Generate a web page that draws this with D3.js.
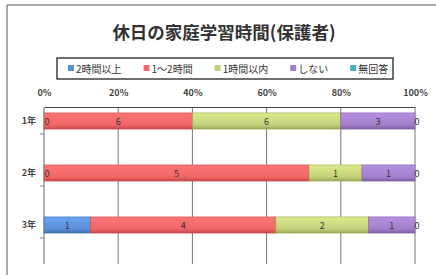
<!DOCTYPE html>
<html>
<head>
<meta charset="utf-8">
<title>休日の家庭学習時間(保護者)</title>
<script src="https://d3js.org/d3.v7.min.js"></script>
<style>
  body { margin: 0; background: #fff; }
  text { font-family: "Noto Sans CJK JP", "Noto Sans", sans-serif; }
</style>
</head>
<body>
<script>
const grades = ["1年", "2年", "3年"]
const seriesNames = ["2時間以上", "1〜2時間", "1時間以内", "しない", "無回答"]
const over2h = [0, 0, 1]
const h1to2 = [6, 5, 4]
const under1h = [6, 1, 2]
const none = [3, 1, 1]
const noAnswer = [0, 0, 0]
const tickLabels = ["0%", "20%", "40%", "60%", "80%", "100%"]

const colors = ["#5b8fd6", "#ef6767", "#c3d07a", "#a27fc9", "#4bacc6"]
const dark = ["#3f6fb0", "#c84848", "#9aa955", "#7d5ea6", "#3490a8"]

const w = 436, h = 275
const svg = d3.select("body").append("svg").attr("width", w).attr("height", h)

// frame of the scanned chart
svg.append("path").attr("d", "M7,277 V5 H436")
  .attr("fill", "none").attr("stroke", "#555").attr("stroke-width", 1)

svg.append("text").attr("x", 224).attr("y", 39).attr("text-anchor", "middle")
  .attr("font-size", 17.5).attr("font-weight", "bold").attr("fill", "#333")
  .text("休日の家庭学習時間(保護者)")

const rows = grades.map((g, i) => {
  const vals = [over2h[i], h1to2[i], under1h[i], none[i], noAnswer[i]]
  const total = d3.sum(vals)
  let acc = 0
  return vals.map((v, k) => {
    const s = acc / total
    acc += v
    return {grade: g, k: k, v: v, x0: s, x1: acc / total}
  })
})

const x = d3.scaleLinear().domain([0, 1]).range([44, 415])
const yBar = d3.scaleBand().domain(grades).range([95, 251]).paddingInner(0.69).paddingOuter(0.345)
const yAxis = d3.scaleBand().domain(grades).range([108, 264])

// gradients
const defs = svg.append("defs")
colors.forEach((c, k) => {
  const gr = defs.append("linearGradient").attr("id", "g" + k)
    .attr("x1", 0).attr("y1", 0).attr("x2", 0).attr("y2", 1)
  gr.append("stop").attr("offset", "0%").attr("stop-color", d3.color(c).brighter(0.35))
  gr.append("stop").attr("offset", "75%").attr("stop-color", c)
  gr.append("stop").attr("offset", "100%").attr("stop-color", dark[k])
})

// gridlines
svg.append("g").selectAll("line").data(d3.range(0.2, 1.01, 0.2)).enter().append("line")
  .attr("x1", d => x(d)).attr("x2", d => x(d))
  .attr("y1", 108).attr("y2", 264)
  .attr("stroke", "#777").attr("stroke-width", 1)

// top axis
svg.append("g").attr("transform", "translate(0,107)")
  .call(d3.axisTop(x).tickValues(d3.range(0, 1.01, 0.2)).tickSize(0)
    .tickFormat((d, i) => tickLabels[i]))
  .call(g => g.select(".domain").attr("stroke", "#444").attr("stroke-width", 1.2))
  .call(g => g.selectAll("text").attr("dy", -8).attr("font-size", 9)
    .attr("font-weight", "bold").attr("fill", "#444")
    .attr("font-family", "\"Noto Sans CJK JP\", sans-serif"))

// left axis
svg.append("g").attr("transform", "translate(44,0)")
  .call(d3.axisLeft(yAxis).tickSize(4).tickFormat(""))
  .call(g => g.select(".domain").attr("stroke", "#666").attr("d", "M-0,108V264"))
  .call(g => g.selectAll(".tick line").attr("stroke", "#888"))

svg.append("g").selectAll("text").data(grades).enter().append("text")
  .attr("x", 36).attr("y", d => yBar(d) + yBar.bandwidth() / 2 + 3)
  .attr("text-anchor", "end").attr("font-size", 9).attr("font-weight", "bold")
  .attr("fill", "#444").text(d => d)

// bars
const seg = svg.append("g").selectAll("g").data(rows).enter().append("g")
seg.selectAll("rect").data(d => d.filter(s => s.v > 0)).enter().append("rect")
  .attr("x", d => x(d.x0)).attr("width", d => x(d.x1) - x(d.x0))
  .attr("y", d => yBar(d.grade)).attr("height", yBar.bandwidth())
  .attr("fill", d => "url(#g" + d.k + ")")
  .attr("stroke", d => dark[d.k]).attr("stroke-width", 0.6)

seg.selectAll("text").data(d => d).enter().append("text")
  .attr("x", d => (x(d.x0) + x(d.x1)) / 2 + (d.v === 0 ? (d.x0 === 0 ? 3 : 2) : 0))
  .attr("y", d => yBar(d.grade) + yBar.bandwidth() / 2 + 3.5)
  .attr("text-anchor", "middle").attr("font-size", 9).attr("fill", "#333")
  .text(d => d.v)

// legend
const lg = svg.append("g")
lg.append("rect").attr("x", 57).attr("y", 58).attr("width", 336).attr("height", 21)
  .attr("fill", "#fff").attr("stroke", "#222").attr("stroke-width", 1.3)
const items = lg.selectAll("g").data(seriesNames).enter().append("g")
items.append("rect").attr("width", 6).attr("height", 6).attr("y", 65)
  .attr("fill", (d, i) => colors[i])
items.append("text").attr("y", 72.5).attr("font-size", 10).attr("fill", "#333").text(d => d)
let lx = 68
items.each(function() {
  const g = d3.select(this)
  g.select("rect").attr("x", lx)
  g.select("text").attr("x", lx + 8)
  lx += 8 + g.select("text").node().getComputedTextLength() + 22
})
</script>
</body>
</html>
